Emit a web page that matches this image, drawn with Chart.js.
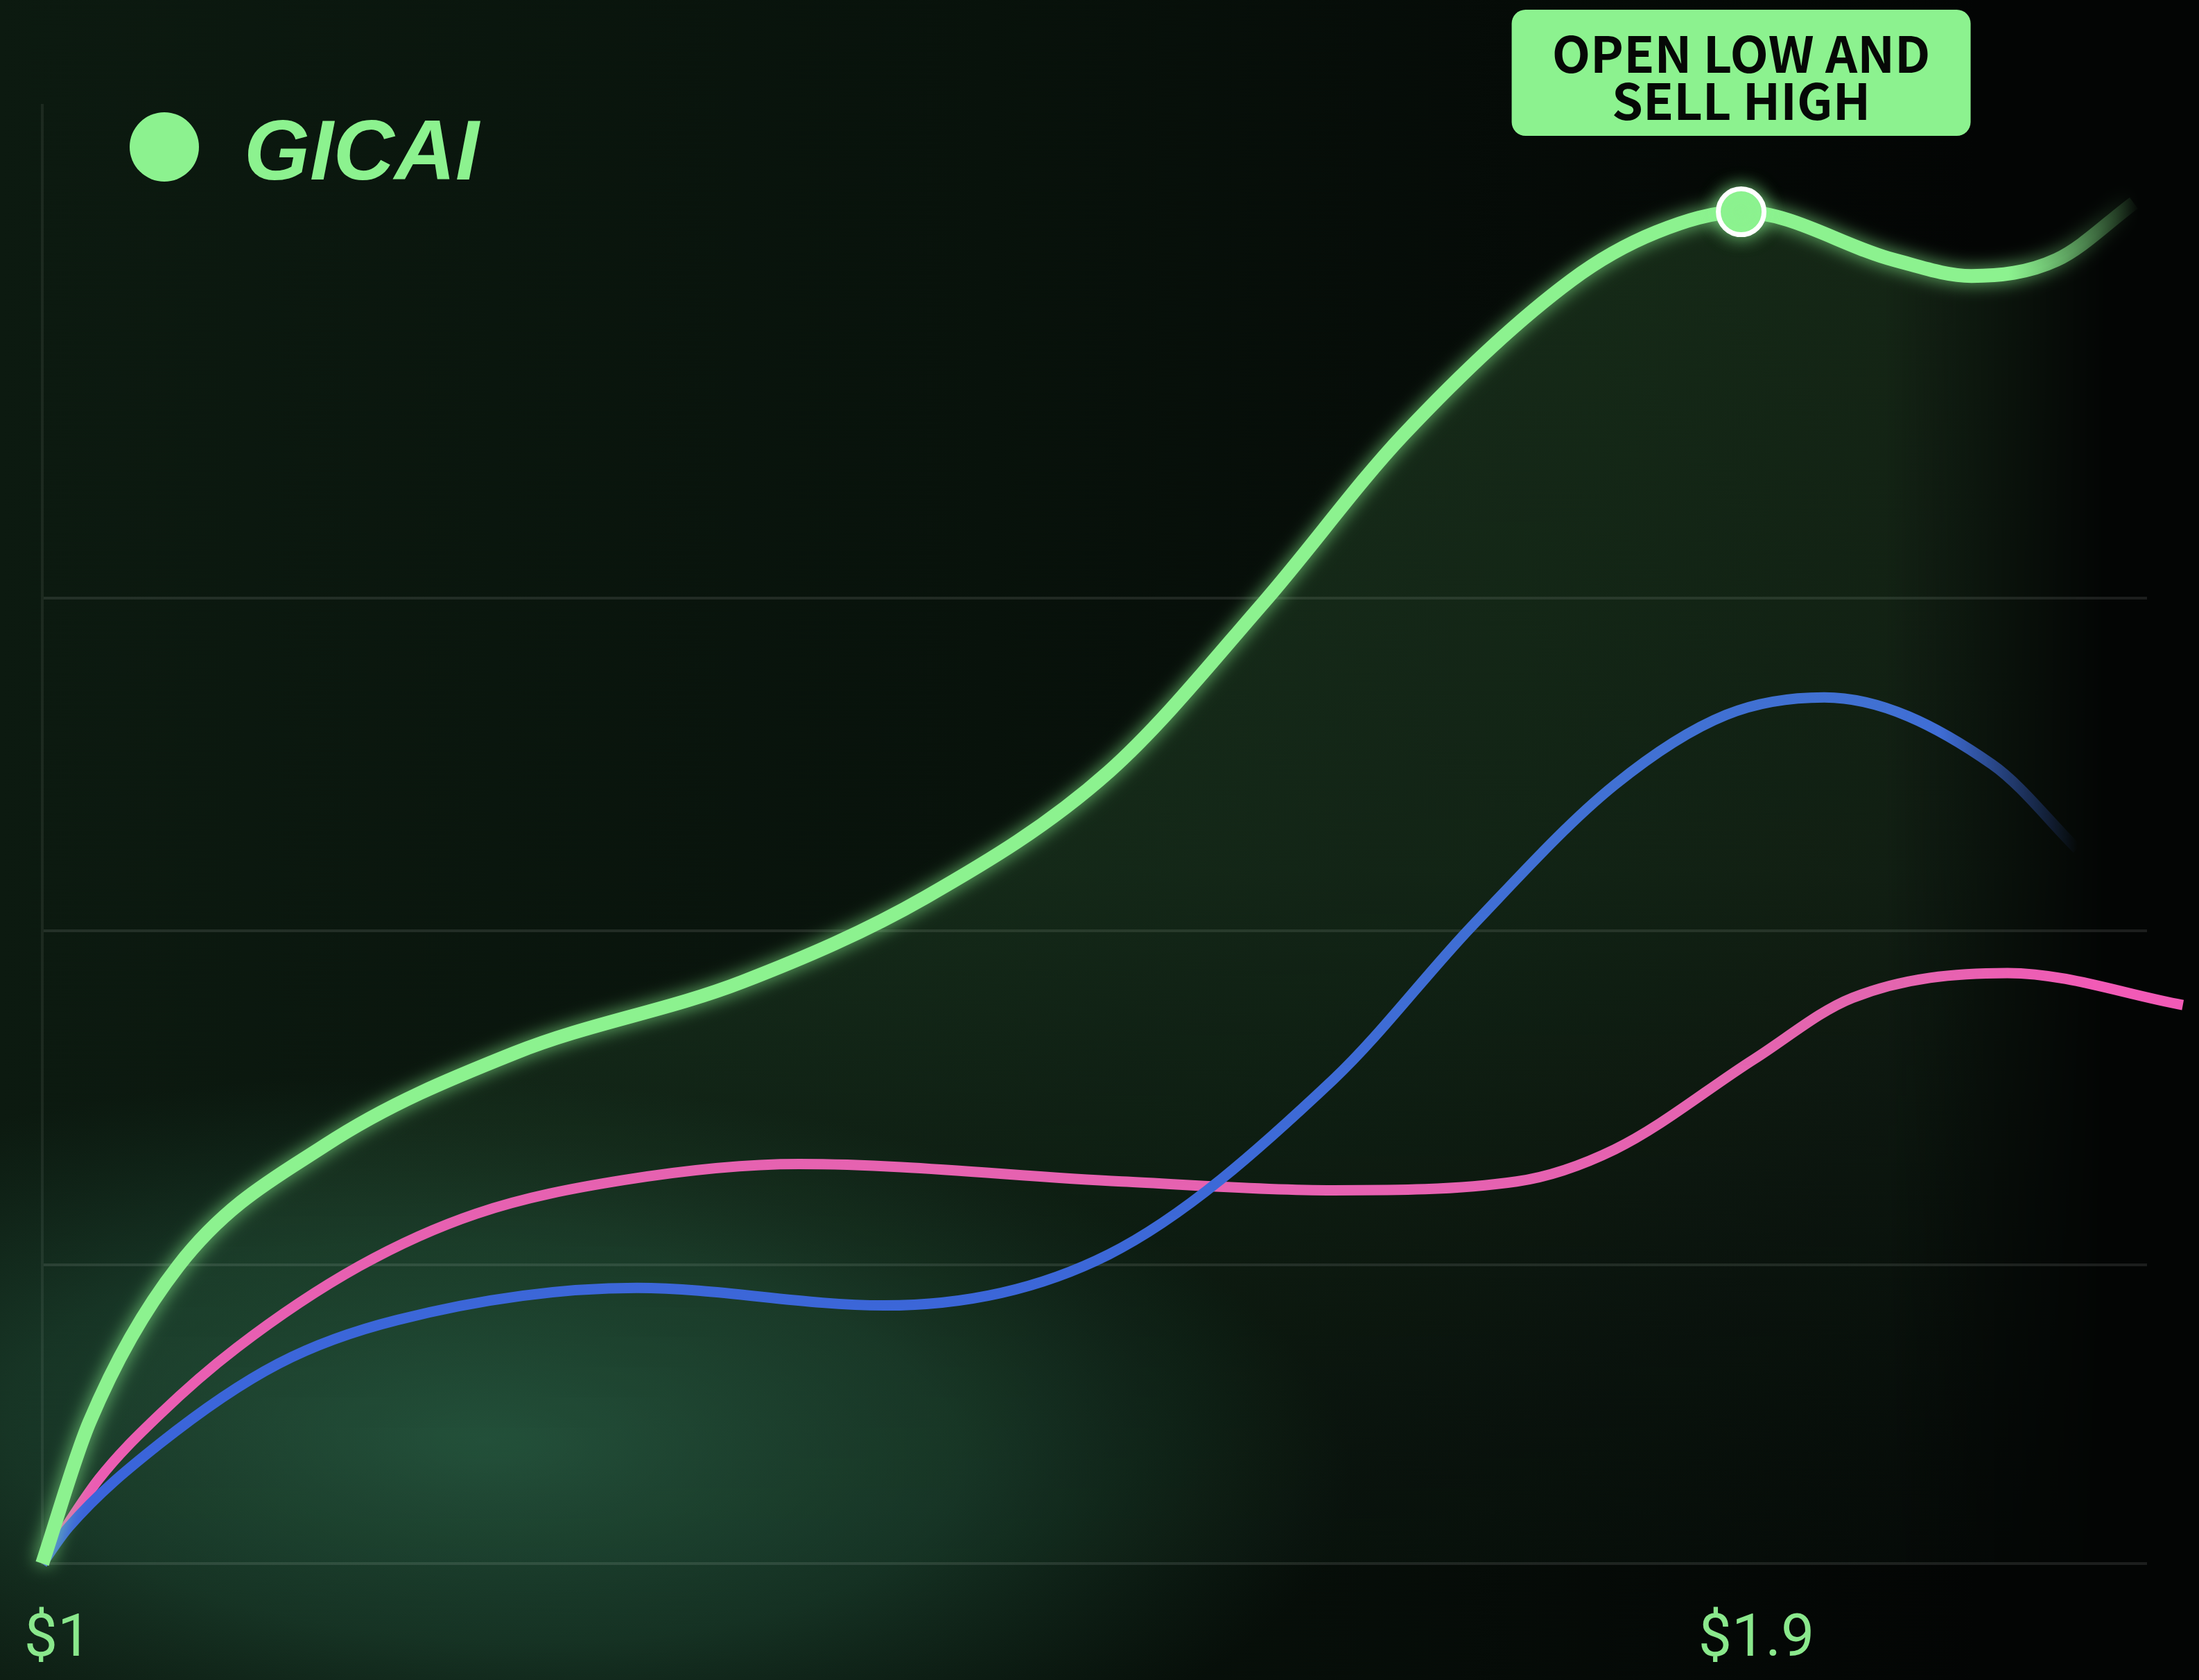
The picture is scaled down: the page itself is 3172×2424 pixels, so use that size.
<!DOCTYPE html>
<html>
<head>
<meta charset="utf-8">
<script src="https://cdn.jsdelivr.net/npm/chart.js@4.4.1/dist/chart.umd.min.js"></script>
<style>
html, body { margin: 0; padding: 0; background: #030504; }
canvas { display: block; }
</style>
</head>
<body>
<canvas id="gicaiChart" width="3172" height="2424"></canvas>
<script>
// series names (only the first one is shown in the legend)
const seriesNames = ['GICAI', 'Series B', 'Series C'];

// x = price in $, y = index (0 = baseline, 100 = top of plot)
const gicaiPrice = [1.000, 1.025, 1.072, 1.150, 1.250, 1.371, 1.468, 1.565, 1.647, 1.721, 1.810, 1.855, 1.900, 1.981, 2.022, 2.067, 2.108];
const gicaiValue = [0, 9.7, 20.4, 28.7, 35.0, 39.9, 45.7, 54.3, 65.9, 77.4, 88.0, 91.3, 92.7, 89.4, 88.3, 89.4, 93.3];

const bluePrice = [1.000, 1.014, 1.062, 1.125, 1.188, 1.315, 1.446, 1.565, 1.684, 1.758, 1.833, 1.892, 1.944, 2.033, 2.078];
const blueValue = [0, 2.5, 8.2, 13.7, 16.7, 18.9, 17.7, 21.2, 33.2, 43.8, 53.4, 58.2, 59.4, 54.8, 49.0];

const pinkPrice = [1.000, 1.030, 1.062, 1.103, 1.168, 1.230, 1.308, 1.401, 1.572, 1.684, 1.781, 1.833, 1.907, 1.959, 2.041, 2.134];
const pinkValue = [0, 5.8, 10.2, 14.8, 20.4, 24.0, 26.3, 27.4, 26.2, 25.6, 26.2, 28.4, 34.6, 38.8, 40.5, 38.3];

const xTickValues = [1, 1.9];
const yGridValues = [0, 20.5, 43.4, 66.2];
const markerPrice = 1.9;
const calloutLines = ['OPEN LOW AND', 'SELL HIGH'];

const GREEN = '#8cf28f';
const BLUE = '#3a62e0';
const PINK = '#f25ab6';

function toPoints(xs, ys) {
    return xs.map((x, i) => ({ x: x, y: ys[i] }));
}

// line colour that fades out towards the right edge of the plot
function fadeRight(color, fromRight, toRight) {
    return function(context) {
        const area = context.chart.chartArea;
        if (!area) return color;
        const g = context.chart.ctx.createLinearGradient(area.right - fromRight, 0, area.right - toRight, 0);
        g.addColorStop(0, color);
        g.addColorStop(1, color + '00');
        return g;
    };
}

// fill under the GICAI line: fades downwards and towards the right
let fillPattern = null;
function gicaiFill(context) {
    const chart = context.chart;
    const area = chart.chartArea;
    if (!area) return 'rgba(120,220,120,0.1)';
    if (fillPattern) return fillPattern;
    const off = document.createElement('canvas');
    off.width = chart.width;
    off.height = chart.height;
    const o = off.getContext('2d');
    const v = o.createLinearGradient(0, area.top + 100, 0, area.bottom);
    v.addColorStop(0, 'rgba(120,225,120,0.15)');
    v.addColorStop(0.5, 'rgba(110,210,120,0.12)');
    v.addColorStop(1, 'rgba(70,150,100,0.03)');
    o.fillStyle = v;
    o.fillRect(0, 0, off.width, off.height);
    o.globalCompositeOperation = 'destination-in';
    const h = o.createLinearGradient(area.right - 380, 0, area.right - 60, 0);
    h.addColorStop(0, 'rgba(0,0,0,1)');
    h.addColorStop(1, 'rgba(0,0,0,0)');
    o.fillStyle = h;
    o.fillRect(0, 0, off.width, off.height);
    fillPattern = chart.ctx.createPattern(off, 'no-repeat');
    return fillPattern;
}

const backgroundPlugin = {
    id: 'background',
    beforeDraw(chart) {
        const ctx = chart.ctx;
        const w = chart.width, h = chart.height;
        ctx.save();
        const base = ctx.createLinearGradient(0, 0, w, 0);
        base.addColorStop(0, '#0c1a10');
        base.addColorStop(0.45, '#08120b');
        base.addColorStop(0.9, '#030504');
        base.addColorStop(1, '#030504');
        ctx.fillStyle = base;
        ctx.fillRect(0, 0, w, h);

        // soft teal glow in the lower left
        ctx.translate(700, 2080);
        ctx.rotate(0.05);
        ctx.scale(1, 0.42);
        const glow = ctx.createRadialGradient(0, 0, 0, 0, 0, 1250);
        glow.addColorStop(0, 'rgba(45,105,78,0.65)');
        glow.addColorStop(0.55, 'rgba(38,90,66,0.42)');
        glow.addColorStop(1, 'rgba(30,70,50,0)');
        ctx.fillStyle = glow;
        ctx.beginPath();
        ctx.arc(0, 0, 1250, 0, Math.PI * 2);
        ctx.fill();
        ctx.restore();
    }
};

const glowPlugin = {
    id: 'glow',
    beforeDatasetDraw(chart, args) {
        if (args.index !== 0) return;
        chart.ctx.save();
        chart.ctx.shadowColor = 'rgba(140,245,145,0.75)';
        chart.ctx.shadowBlur = 26;
    },
    afterDatasetDraw(chart, args) {
        if (args.index === 0) chart.ctx.restore();
    }
};

const legendPlugin = {
    id: 'gicaiLegend',
    afterDraw(chart) {
        const ctx = chart.ctx;
        ctx.save();
        ctx.fillStyle = GREEN;
        ctx.beginPath();
        ctx.arc(237, 212, 50, 0, Math.PI * 2);
        ctx.fill();
        ctx.font = 'italic bold 122px "Liberation Sans", sans-serif';
        ctx.textBaseline = 'alphabetic';
        ctx.textAlign = 'left';
        ctx.fillText(seriesNames[0], 352, 259);
        ctx.restore();
    }
};

const calloutPlugin = {
    id: 'callout',
    afterDatasetsDraw(chart) {
        const meta = chart.getDatasetMeta(0);
        const pt = meta.data[gicaiPrice.indexOf(markerPrice)];
        if (!pt) return;
        const ctx = chart.ctx;
        const bw = 662, bh = 182, top = 14;
        ctx.save();
        ctx.fillStyle = GREEN;
        ctx.beginPath();
        ctx.roundRect(pt.x - bw / 2, top, bw, bh, 20);
        ctx.fill();
        ctx.fillStyle = '#060806';
        ctx.font = 'bold 72px "Noto Sans CJK SC", "Noto Sans", sans-serif';
        ctx.textAlign = 'center';
        ctx.textBaseline = 'middle';
        ctx.fillText(calloutLines[0], pt.x, top + 64);
        ctx.fillText(calloutLines[1], pt.x, top + 132);
        ctx.restore();
    }
};

const chartCtx = document.getElementById('gicaiChart').getContext('2d');

new Chart(chartCtx, {
    type: 'line',
    data: {
        datasets: [
            {
                label: seriesNames[0],
                data: toPoints(gicaiPrice, gicaiValue),
                borderColor: fadeRight(GREEN, 200, 10),
                borderWidth: 20,
                backgroundColor: gicaiFill,
                fill: 'origin',
                cubicInterpolationMode: 'monotone',
                pointRadius: c => (c.raw && c.raw.x === markerPrice) ? 33 : 0,
                pointBackgroundColor: GREEN,
                pointBorderColor: '#ffffff',
                pointBorderWidth: 7,
                clip: false
            },
            {
                label: seriesNames[1],
                data: toPoints(bluePrice, blueValue),
                borderColor: fadeRight(BLUE, 300, 100),
                borderWidth: 15,
                fill: false,
                cubicInterpolationMode: 'monotone',
                pointRadius: 0,
                clip: false
            },
            {
                label: seriesNames[2],
                data: toPoints(pinkPrice, pinkValue),
                borderColor: PINK,
                borderWidth: 15,
                fill: false,
                cubicInterpolationMode: 'monotone',
                pointRadius: 0,
                clip: false
            }
        ]
    },
    options: {
        responsive: false,
        devicePixelRatio: 1,
        animation: false,
        layout: {
            padding: { left: 61, top: 152, right: 75, bottom: 0 }
        },
        scales: {
            x: {
                type: 'linear',
                min: 1,
                max: 2.115,
                grid: { display: false, drawTicks: false },
                border: { display: false },
                afterBuildTicks: scale => { scale.ticks = xTickValues.map(v => ({ value: v })); },
                afterFit: scale => {
                    scale.height = 168;
                    scale.paddingLeft = 0;
                    scale.paddingRight = 0;
                },
                ticks: {
                    color: '#8ae88c',
                    font: { family: '"Liberation Sans Narrow", "Roboto", sans-serif', size: 86 },
                    padding: 60,
                    labelOffset: 22,
                    maxRotation: 0,
                    autoSkip: false,
                    callback: value => '$' + value
                }
            },
            y: {
                type: 'linear',
                min: 0,
                max: 100,
                afterBuildTicks: scale => { scale.ticks = yGridValues.map(v => ({ value: v })); },
                afterFit: scale => { scale.width = 0; },
                ticks: { display: false },
                grid: { color: 'rgba(255,255,255,0.1)', lineWidth: 4, drawTicks: false },
                border: { display: true, color: 'rgba(255,255,255,0.07)', width: 4 }
            }
        },
        plugins: {
            legend: { display: false },
            tooltip: { enabled: false }
        }
    },
    plugins: [backgroundPlugin, glowPlugin, calloutPlugin, legendPlugin]
});
</script>
</body>
</html>
